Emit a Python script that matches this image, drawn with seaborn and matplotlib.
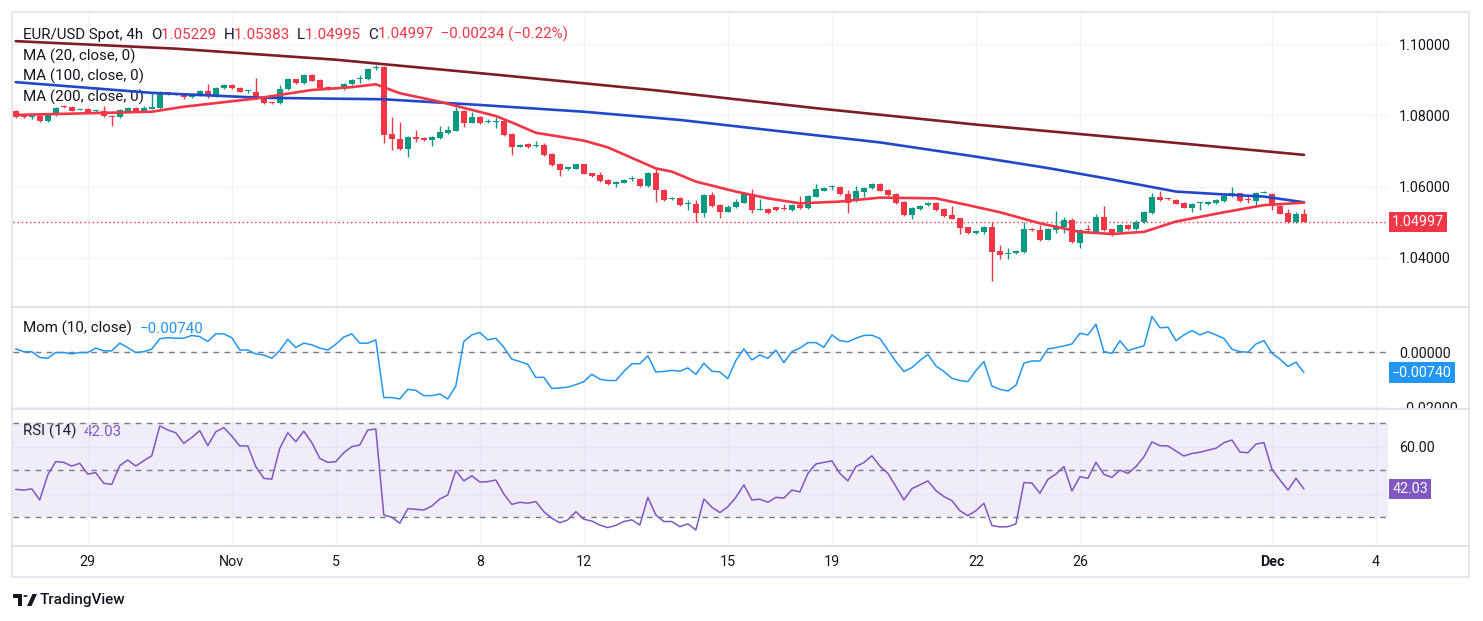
import numpy as np
import pandas as pd
import matplotlib
matplotlib.use("Agg")
import matplotlib.pyplot as plt
import seaborn as sns
from matplotlib.patches import Rectangle, Circle, Polygon
from matplotlib.lines import Line2D
from matplotlib.transforms import Bbox, TransformedBbox

# ---- data (EUR/USD 4h) ----
open_px = [1.0811, 1.0797, 1.0794, 1.0797, 1.0783, 1.0801, 1.0825, 1.0822, 1.0816, 1.0818,
           1.0812, 1.0813, 1.0798, 1.0795, 1.0812, 1.0821, 1.0812, 1.0819, 1.0820, 1.0863,
           1.0860, 1.0857, 1.0850, 1.0857, 1.0868, 1.0852, 1.0876, 1.0886, 1.0877, 1.0867,
           1.0866, 1.0852, 1.0837, 1.0834, 1.0873, 1.0901, 1.0890, 1.0914, 1.0899, 1.0879,
           1.0875, 1.0874, 1.0887, 1.0903, 1.0901, 1.0933, 1.0935, 1.0748, 1.0734, 1.0706,
           1.0740, 1.0737, 1.0731, 1.0736, 1.0750, 1.0757, 1.0813, 1.0779, 1.0796, 1.0780,
           1.0780, 1.0784, 1.0748, 1.0712, 1.0719, 1.0714, 1.0716, 1.0691, 1.0663, 1.0649,
           1.0650, 1.0662, 1.0637, 1.0633, 1.0619, 1.0607, 1.0611, 1.0621, 1.0621, 1.0603,
           1.0638, 1.0590, 1.0566, 1.0568, 1.0551, 1.0552, 1.0527, 1.0577, 1.0548, 1.0530,
           1.0542, 1.0555, 1.0580, 1.0535, 1.0537, 1.0542, 1.0537, 1.0534, 1.0547, 1.0541,
           1.0572, 1.0589, 1.0598, 1.0599, 1.0578, 1.0560, 1.0585, 1.0595, 1.0607, 1.0591,
           1.0579, 1.0558, 1.0520, 1.0537, 1.0547, 1.0554, 1.0537, 1.0520, 1.0511, 1.0486,
           1.0469, 1.0473, 1.0487, 1.0419, 1.0410, 1.0414, 1.0417, 1.0481, 1.0478, 1.0451,
           1.0478, 1.0487, 1.0506, 1.0443, 1.0479, 1.0471, 1.0515, 1.0480, 1.0474, 1.0492,
           1.0481, 1.0500, 1.0526, 1.0571, 1.0566, 1.0562, 1.0554, 1.0541, 1.0553, 1.0551,
           1.0554, 1.0560, 1.0574, 1.0581, 1.0565, 1.0560, 1.0583, 1.0579, 1.0546, 1.0526,
           1.0500, 1.05229]
high_px = [1.0815, 1.0799, 1.0799, 1.0800, 1.0806, 1.0822, 1.0829, 1.0826, 1.0819, 1.0820,
           1.0816, 1.0826, 1.0800, 1.0817, 1.0824, 1.0824, 1.0825, 1.0863, 1.0867, 1.0866,
           1.0862, 1.0859, 1.0863, 1.0872, 1.0888, 1.0879, 1.0888, 1.0889, 1.0879, 1.0872,
           1.0905, 1.0854, 1.0838, 1.0885, 1.0904, 1.0903, 1.0915, 1.0916, 1.0901, 1.0881,
           1.0878, 1.0890, 1.0901, 1.0913, 1.0932, 1.0941, 1.0937, 1.0796, 1.0782, 1.0742,
           1.0759, 1.0739, 1.0742, 1.0770, 1.0771, 1.0824, 1.0816, 1.0808, 1.0798, 1.0789,
           1.0796, 1.0786, 1.0750, 1.0720, 1.0721, 1.0728, 1.0722, 1.0693, 1.0665, 1.0656,
           1.0664, 1.0664, 1.0639, 1.0641, 1.0621, 1.0615, 1.0622, 1.0630, 1.0623, 1.0641,
           1.0651, 1.0593, 1.0571, 1.0570, 1.0561, 1.0561, 1.0579, 1.0585, 1.0550, 1.0548,
           1.0564, 1.0582, 1.0592, 1.0565, 1.0540, 1.0544, 1.0550, 1.0550, 1.0574, 1.0576,
           1.0607, 1.0599, 1.0605, 1.0601, 1.0590, 1.0602, 1.0598, 1.0610, 1.0609, 1.0593,
           1.0581, 1.0560, 1.0543, 1.0548, 1.0556, 1.0556, 1.0539, 1.0546, 1.0513, 1.0488,
           1.0478, 1.0489, 1.0501, 1.0436, 1.0428, 1.0421, 1.0501, 1.0483, 1.0492, 1.0483,
           1.0531, 1.0515, 1.0511, 1.0480, 1.0492, 1.0522, 1.0546, 1.0482, 1.0494, 1.0494,
           1.0506, 1.0531, 1.0581, 1.0587, 1.0568, 1.0564, 1.0556, 1.0553, 1.0557, 1.0559,
           1.0564, 1.0577, 1.0598, 1.0583, 1.0574, 1.0584, 1.0587, 1.0582, 1.0548, 1.0537,
           1.0529, 1.05383]
low_px = [1.0792, 1.0793, 1.0790, 1.0781, 1.0781, 1.0799, 1.0820, 1.0811, 1.0815, 1.0808,
          1.0810, 1.0795, 1.0771, 1.0793, 1.0810, 1.0808, 1.0810, 1.0818, 1.0818, 1.0858,
          1.0857, 1.0846, 1.0848, 1.0855, 1.0848, 1.0850, 1.0874, 1.0874, 1.0864, 1.0862,
          1.0847, 1.0833, 1.0833, 1.0832, 1.0871, 1.0888, 1.0888, 1.0895, 1.0875, 1.0872,
          1.0873, 1.0872, 1.0885, 1.0891, 1.0899, 1.0928, 1.0721, 1.0703, 1.0702, 1.0684,
          1.0726, 1.0729, 1.0715, 1.0734, 1.0748, 1.0755, 1.0768, 1.0777, 1.0776, 1.0777,
          1.0763, 1.0743, 1.0689, 1.0710, 1.0709, 1.0712, 1.0686, 1.0659, 1.0630, 1.0647,
          1.0648, 1.0634, 1.0628, 1.0614, 1.0605, 1.0598, 1.0609, 1.0616, 1.0600, 1.0600,
          1.0558, 1.0559, 1.0563, 1.0545, 1.0534, 1.0500, 1.0515, 1.0544, 1.0513, 1.0528,
          1.0540, 1.0553, 1.0525, 1.0534, 1.0524, 1.0532, 1.0534, 1.0532, 1.0537, 1.0538,
          1.0570, 1.0587, 1.0590, 1.0576, 1.0527, 1.0558, 1.0572, 1.0593, 1.0587, 1.0575,
          1.0550, 1.0518, 1.0509, 1.0535, 1.0545, 1.0532, 1.0516, 1.0508, 1.0467, 1.0467,
          1.0467, 1.0467, 1.0336, 1.0397, 1.0396, 1.0412, 1.0415, 1.0476, 1.0448, 1.0449,
          1.0470, 1.0470, 1.0442, 1.0429, 1.0475, 1.0469, 1.0476, 1.0461, 1.0472, 1.0479,
          1.0479, 1.0498, 1.0524, 1.0560, 1.0561, 1.0550, 1.0539, 1.0530, 1.0534, 1.0549,
          1.0552, 1.0558, 1.0572, 1.0558, 1.0554, 1.0546, 1.0582, 1.0534, 1.0522, 1.0498,
          1.0498, 1.04995]
close_px = [1.0795, 1.0795, 1.0796, 1.0783, 1.0804, 1.0820, 1.0823, 1.0813, 1.0818, 1.0810,
            1.0814, 1.0797, 1.0796, 1.0815, 1.0821, 1.0810, 1.0821, 1.0822, 1.0865, 1.0861,
            1.0859, 1.0850, 1.0861, 1.0868, 1.0855, 1.0877, 1.0886, 1.0876, 1.0866, 1.0869,
            1.0849, 1.0835, 1.0835, 1.0874, 1.0902, 1.0890, 1.0913, 1.0897, 1.0877, 1.0874,
            1.0876, 1.0888, 1.0899, 1.0905, 1.0930, 1.0936, 1.0745, 1.0734, 1.0705, 1.0740,
            1.0734, 1.0731, 1.0740, 1.0754, 1.0759, 1.0813, 1.0779, 1.0796, 1.0778, 1.0782,
            1.0783, 1.0745, 1.0712, 1.0718, 1.0711, 1.0717, 1.0688, 1.0661, 1.0647, 1.0654,
            1.0662, 1.0636, 1.0630, 1.0617, 1.0607, 1.0613, 1.0619, 1.0623, 1.0603, 1.0638,
            1.0590, 1.0562, 1.0568, 1.0547, 1.0553, 1.0527, 1.0577, 1.0546, 1.0530, 1.0543,
            1.0557, 1.0580, 1.0535, 1.0537, 1.0527, 1.0534, 1.0536, 1.0548, 1.0540, 1.0574,
            1.0593, 1.0595, 1.0600, 1.0578, 1.0555, 1.0588, 1.0596, 1.0607, 1.0589, 1.0577,
            1.0555, 1.0520, 1.0541, 1.0546, 1.0554, 1.0534, 1.0518, 1.0510, 1.0485, 1.0469,
            1.0476, 1.0487, 1.0417, 1.0408, 1.0413, 1.0419, 1.0481, 1.0479, 1.0450, 1.0481,
            1.0489, 1.0506, 1.0444, 1.0478, 1.0477, 1.0515, 1.0478, 1.0469, 1.0492, 1.0481,
            1.0500, 1.0529, 1.0571, 1.0562, 1.0564, 1.0552, 1.0541, 1.0551, 1.0555, 1.0557,
            1.0562, 1.0575, 1.0581, 1.0560, 1.0563, 1.0582, 1.0585, 1.0545, 1.0524, 1.0500,
            1.0523, 1.04997]

# moving averages, read at a handful of bars
ma20_idx = [0, 17, 21, 30, 37, 42, 45, 48, 53, 60, 62, 65, 71, 74, 80, 82, 85, 90, 94, 98,
            103, 108, 115, 119, 123, 128, 133, 137, 141, 145, 151, 156, 161]
ma20_val = [1.0801, 1.0810, 1.0824, 1.0847, 1.0871, 1.0879, 1.0887, 1.0862, 1.0838, 1.0798,
            1.0780, 1.0751, 1.0729, 1.0710, 1.0651, 1.0642, 1.0614, 1.0586, 1.0567, 1.0553,
            1.0558, 1.0569, 1.0567, 1.0548, 1.0528, 1.0497, 1.0473, 1.0467, 1.0473, 1.0502,
            1.0528, 1.0548, 1.0555]
ma100_idx = [0, 17, 31, 46, 58, 71, 83, 96, 108, 120, 129, 136, 145, 151, 156, 161]
ma100_val = [1.0893, 1.0863, 1.0849, 1.0845, 1.0829, 1.0810, 1.0787, 1.0754, 1.0724, 1.0684,
             1.0652, 1.0624, 1.0586, 1.0578, 1.0572, 1.0556]
ma200_idx = [0, 20, 40, 60, 80, 100, 120, 140, 161]
ma200_val = [1.1008, 1.0987, 1.0956, 1.0914, 1.0870, 1.0820, 1.0774, 1.0733, 1.0689]

mom_val = [0.0012, 0.0002, 0.0002, -0.0019, -0.0022, -0.0001, -0.0001, -0.0006, -0.0001, -0.0001,
           0.0015, 0.0005, 0.0005, 0.0033, 0.0017, -0.0001, 0.0002, 0.0011, 0.0049, 0.0053,
           0.0051, 0.0051, 0.0061, 0.0057, 0.0039, 0.0067, 0.0067, 0.0053, 0.0008, 0.0008,
           -0.0006, -0.0010, -0.0022, 0.0006, 0.0047, 0.0017, 0.0033, 0.0027, 0.0015, 0.0008,
           0.0029, 0.0055, 0.0067, 0.0033, 0.0033, 0.0045, -0.0165, -0.0165, -0.0170, -0.0135,
           -0.0139, -0.0158, -0.0158, -0.0152, -0.0170, -0.0123, 0.0039, 0.0063, 0.0072, 0.0045,
           0.0051, 0.0018, -0.0025, -0.0034, -0.0044, -0.0092, -0.0091, -0.0132, -0.0130, -0.0127,
           -0.0118, -0.0107, -0.0080, -0.0098, -0.0103, -0.0103, -0.0070, -0.0042, -0.0042, -0.0013,
           -0.0072, -0.0070, -0.0066, -0.0069, -0.0057, -0.0081, -0.0040, -0.0069, -0.0072, -0.0096,
           -0.0030, 0.0012, -0.0028, -0.0010, -0.0022, 0.0008, -0.0038, 0.0002, 0.0015, 0.0035,
           0.0035, 0.0018, 0.0063, 0.0042, 0.0038, 0.0051, 0.0061, 0.0062, 0.0050, 0.0008,
           -0.0034, -0.0070, -0.0056, -0.0030, -0.0008, -0.0050, -0.0070, -0.0095, -0.0103, -0.0107,
           -0.0067, -0.0034, -0.0123, -0.0135, -0.0141, -0.0120, -0.0040, -0.0032, -0.0032, 0.0012,
           0.0017, 0.0023, 0.0030, 0.0069, 0.0063, 0.0102, 0.0002, -0.0004, 0.0042, 0.0006,
           0.0015, 0.0023, 0.0130, 0.0089, 0.0091, 0.0042, 0.0063, 0.0079, 0.0063, 0.0075,
           0.0063, 0.0050, 0.0011, 0.0002, 0.0000, 0.0030, 0.0042, -0.0004, -0.0025, -0.0052,
           -0.0036, -0.0074]

rsi_val = [41.9, 41.6, 42.1, 37.4, 48.0, 53.7, 53.4, 51.8, 53.0, 48.4,
           49.0, 44.5, 44.0, 52.0, 54.4, 51.8, 54.1, 56.2, 68.9, 67.2,
           66.0, 61.5, 64.0, 66.9, 60.5, 66.4, 68.2, 64.6, 60.4, 60.4,
           51.6, 46.6, 46.2, 59.4, 66.0, 62.2, 66.7, 61.8, 55.1, 53.4,
           53.7, 57.5, 60.1, 60.8, 67.2, 67.6, 31.0, 30.0, 27.5, 33.7,
           33.4, 33.1, 34.8, 37.8, 39.5, 49.9, 45.5, 47.7, 45.0, 45.2,
           45.9, 39.9, 35.5, 36.4, 36.0, 36.7, 32.4, 29.6, 27.7, 28.9,
           32.4, 29.2, 28.4, 26.7, 25.6, 26.6, 28.2, 28.9, 26.7, 38.5,
           31.0, 28.2, 28.2, 26.0, 27.2, 24.6, 37.8, 34.3, 32.0, 34.5,
           38.5, 43.8, 37.4, 37.7, 36.4, 38.5, 38.2, 41.6, 40.8, 48.7,
           52.7, 53.4, 54.0, 48.7, 45.5, 51.6, 53.3, 56.2, 51.8, 48.7,
           43.1, 37.4, 42.2, 43.8, 45.5, 41.4, 38.8, 37.1, 32.8, 30.7,
           32.8, 36.0, 26.5, 25.9, 26.0, 27.2, 44.8, 44.6, 40.2, 46.2,
           48.4, 51.6, 41.2, 47.3, 46.6, 53.4, 48.3, 47.0, 50.1, 48.7,
           51.6, 55.8, 62.1, 60.5, 60.4, 58.2, 56.1, 57.2, 57.7, 58.6,
           59.4, 61.8, 62.9, 57.8, 57.5, 61.2, 61.8, 50.4, 45.9, 41.6,
           46.6, 42.03]

tick_days = ['2024-10-29', '2024-11-01', '2024-11-05', '2024-11-08', '2024-11-12', '2024-11-15',
             '2024-11-19', '2024-11-22', '2024-11-26', '2024-12-01', '2024-12-04']
tick_labels = ['29', 'Nov', '5', '8', '12', '15', '19', '22', '26', 'Dec', '4']

price_ticks = [1.04, 1.06, 1.08, 1.10]
last_price = 1.04997
mom_last = -0.0074
rsi_last = 42.03

# ---- colours ----
UP = '#089981'
DOWN = '#f23645'
MA20_C = '#f23645'
MA100_C = '#2148c8'
MA200_C = '#7f1d25'
MOM_C = '#2196f3'
RSI_C = '#7e57c2'
TXT = '#131722'
GRID = '#f0f3fa'
BORDER = '#e0e3eb'
DASH = '#787b86'

sns.set_style('white')
plt.rcParams['font.family'] = ['Roboto', 'DejaVu Sans']
FS = 10.3      # price scale / time scale
HFS = 10.9     # legend texts in the panes

# 4h bar calendar: Sunday evening bar + Mon-Fri
bars = pd.date_range('2024-10-25 16:00', '2024-12-06 00:00', freq='4h')
bars = bars[(bars.dayofweek < 5) | ((bars.dayofweek == 6) & (bars.hour == 20))]
tick_pos = [int(bars.searchsorted(pd.Timestamp(d))) for d in tick_days]

W, H = 1483, 621
fig = plt.figure(figsize=(W / 100, H / 100), dpi=100)
fig.patch.set_facecolor('white')


def rect(x0, y0, x1, y1):
    return [x0 / W, 1 - y1 / H, (x1 - x0) / W, (y1 - y0) / H]


def fx(x):
    return x / W


def fy(y):
    return 1 - y / H


ax_p = fig.add_axes(rect(13, 13, 1388, 306))
ax_m = fig.add_axes(rect(13, 308, 1388, 408), sharex=ax_p)
ax_r = fig.add_axes(rect(13, 410, 1388, 545), sharex=ax_p)

xs = np.arange(len(close_px))
o = np.array(open_px)
c = np.array(close_px)
colors = np.where(c >= o, UP, DOWN)

# candles
ax_p.vlines(xs, low_px, high_px, colors=colors, lw=1, zorder=3)
body_lo = np.minimum(o, c)
body_h = np.maximum(np.abs(c - o), 0.0003)
ax_p.bar(xs, body_h, bottom=body_lo, width=0.7, color=colors, lw=0, zorder=3)

# moving averages
sns.lineplot(x=ma200_idx, y=ma200_val, ax=ax_p, color=MA200_C, lw=1.9, zorder=4)
sns.lineplot(x=ma100_idx, y=ma100_val, ax=ax_p, color=MA100_C, lw=1.9, zorder=4)
sns.lineplot(x=ma20_idx, y=ma20_val, ax=ax_p, color=MA20_C, lw=1.9, zorder=5)
ax_p.axhline(last_price, color=DOWN, lw=1, ls=(0, (1, 2)), zorder=2)

ax_p.set_ylim(1.0265, 1.1087)
ax_p.set_yticks(price_ticks)
ax_p.set_yticklabels([f'{v:.5f}' for v in price_ticks])

# momentum
sns.lineplot(x=xs, y=mom_val, ax=ax_m, color=MOM_C, lw=1.1, zorder=4)
ax_m.axhline(0, color=DASH, lw=1, ls=(0, (4, 4)), zorder=3)
ax_m.set_ylim(-0.0203, 0.0161)
ax_m.set_yticks([0.0, -0.02])
ax_m.set_yticklabels(['0.00000', '\u22120.02000'])

# RSI
ax_r.axhspan(30, 70, color=RSI_C, alpha=0.1, lw=0, zorder=1)
sns.lineplot(x=xs, y=rsi_val, ax=ax_r, color=RSI_C, lw=1.1, zorder=4)
for lvl in (70, 50, 30):
    ax_r.axhline(lvl, color=DASH, lw=1, ls=(0, (4, 4)), zorder=3)
ax_r.set_ylim(18.2, 75.7)
ax_r.set_yticks([40, 60])
ax_r.set_yticklabels(['', '60.00'])

ax_r.set_xlim(-0.34, 171.5)
ax_r.set_xticks(tick_pos)
ax_r.set_xticklabels(tick_labels)
for lbl in ax_r.get_xticklabels():
    if lbl.get_text() == 'Dec':
        lbl.set_fontweight('bold')

for ax in (ax_p, ax_m, ax_r):
    ax.set_facecolor('none')
    ax.set_xlabel('')
    ax.set_ylabel('')
    for s in ax.spines.values():
        s.set_visible(False)
    ax.yaxis.tick_right()
    ax.tick_params(axis='y', length=0, pad=8, labelsize=FS, labelcolor=TXT)
    ax.tick_params(axis='x', length=0, pad=7, labelsize=FS, labelcolor=TXT)
    ax.grid(True, color=GRID, lw=1)
    ax.set_axisbelow(True)
ax_p.tick_params(axis='x', labelbottom=False)
ax_m.tick_params(axis='x', labelbottom=False)

# the -0.02 label is cut by the pane border
clip = TransformedBbox(Bbox([[0, 0], [1.1, 1]]), ax_m.transAxes)
for t in ax_m.get_yticklabels():
    t.set_clip_box(clip)
    t.set_clip_on(True)


def badge(ax, y, text, color):
    ax.annotate(text, xy=(1, y), xycoords=('axes fraction', 'data'), xytext=(3, 0),
                textcoords='offset points', ha='left', va='center', color='white',
                fontsize=FS, annotation_clip=False, zorder=10,
                bbox=dict(boxstyle='square,pad=0.22', fc=color, ec='none'))


badge(ax_p, last_price, f'{last_price:.5f}', DOWN)
badge(ax_m, mom_last, f'{mom_last:.5f}'.replace('-', '\u2212'), MOM_C)
badge(ax_r, rsi_last, f'{rsi_last:.2f}', RSI_C)


def header(x, y, parts, size=HFS):
    # pieces of text set one after another, each starting where the last one ends
    prev = ax_p.annotate(parts[0][0], xy=(fx(x), fy(y)), xycoords='figure fraction',
                         ha='left', va='bottom', color=parts[0][1], fontsize=size,
                         annotation_clip=False)
    for s, col in parts[1:]:
        prev = ax_p.annotate(s, xy=(1, 0), xycoords=prev, ha='left', va='bottom',
                             color=col, fontsize=size, annotation_clip=False)


header(23, 42, [('EUR/USD Spot, 4h  ', TXT), ('O', TXT), ('1.05229  ', DOWN),
                ('H', TXT), ('1.05383  ', DOWN), ('L', TXT), ('1.04995  ', DOWN),
                ('C', TXT), ('1.04997  \u22120.00234 (\u22120.22%)', DOWN)])
for yy, name in [(64, 'MA (20, close, 0)'), (84, 'MA (100, close, 0)'), (105, 'MA (200, close, 0)')]:
    header(23, yy, [(name, TXT)])
header(23, 336, [('Mom (10, close)  ', TXT), (f'{mom_last:.5f}'.replace('-', '\u2212'), MOM_C)])
header(23, 439, [('RSI (14)  ', TXT), (f'{rsi_last:.2f}', RSI_C)])

# pane frame and separators
fig.add_artist(Rectangle((fx(12), fy(577)), fx(1469) - fx(12), fy(12) - fy(577),
                         transform=fig.transFigure, fill=False, ec=BORDER, lw=1.2))
for yy in (307, 409, 546):
    fig.add_artist(Line2D([fx(12), fx(1469)], [fy(yy), fy(yy)], transform=fig.transFigure,
                          color=BORDER, lw=1.5))

# TradingView logo
tf = fig.transFigure
fig.add_artist(Rectangle((fx(13), fy(598)), fx(22) - fx(13), fy(594) - fy(598), transform=tf,
                         fc='#131722', ec='none'))
fig.add_artist(Rectangle((fx(18), fy(606)), fx(22) - fx(18), fy(594) - fy(606), transform=tf,
                         fc='#131722', ec='none'))
fig.add_artist(Circle((fx(25.5), fy(596)), 2.2 / W, transform=tf, fc='#131722', ec='none'))
fig.add_artist(Polygon([(fx(27), fy(606)), (fx(31.5), fy(606)), (fx(37), fy(594)), (fx(32.5), fy(594))],
                       transform=tf, fc='#131722', ec='none'))
fig.text(fx(40), fy(600), 'TradingView', fontsize=11, color='#131722', ha='left', va='center',
         fontweight='medium')

fig.savefig('out.png', dpi=100, facecolor='white')
